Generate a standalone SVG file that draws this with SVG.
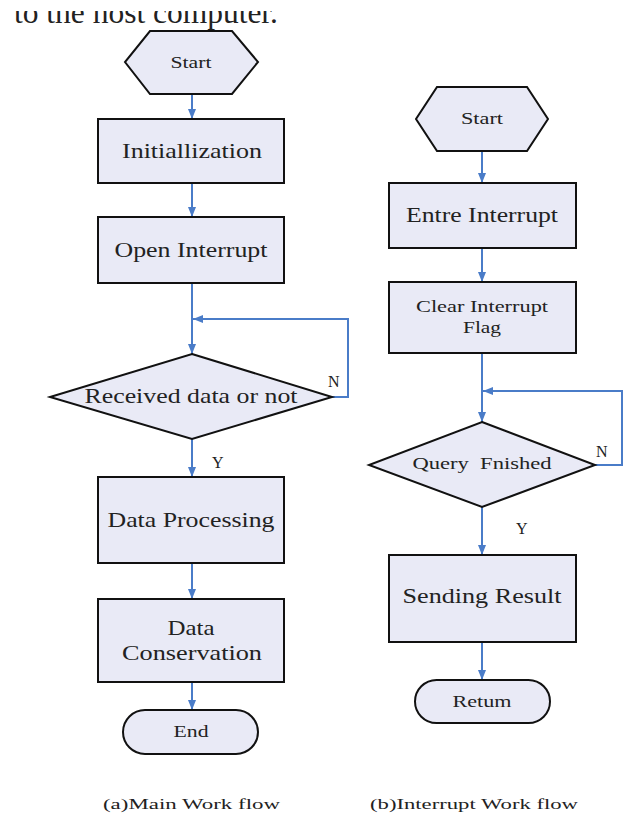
<svg xmlns="http://www.w3.org/2000/svg" width="624" height="816" viewBox="0 0 624 816">
<style>
.shape{fill:#E9EAF6;stroke:#111;stroke-width:2}
.t{font-family:"Liberation Serif","Times New Roman",serif;fill:#222;text-anchor:middle}
.b{font-size:21px}
.s{font-size:16px}
.cap{font-family:"Liberation Serif","Times New Roman",serif;fill:#222;font-size:15px}
.c{fill:none;stroke:#4A7CC8;stroke-width:2}
.lbl{font-family:"Liberation Serif","Times New Roman",serif;fill:#222;font-size:16px}
</style>
<defs>
<marker id="ah" markerUnits="userSpaceOnUse" markerWidth="10" markerHeight="10" viewBox="0 0 10 10" refX="10" refY="5" orient="auto">
<path d="M0,1 L10,5 L0,9 Z" fill="#4A7CC8"/>
</marker>
<clipPath id="topclip"><rect x="0" y="11" width="624" height="20"/></clipPath>
</defs>
<rect width="624" height="816" fill="#fff"/>
<text clip-path="url(#topclip)" x="14" y="23" font-family="Liberation Serif, Times New Roman, serif" font-size="31" fill="#222" textLength="264" lengthAdjust="spacingAndGlyphs">to the host computer.</text>

<g id="connectors">
<line class="c" x1="192" y1="95" x2="192" y2="119" marker-end="url(#ah)"/>
<line class="c" x1="192" y1="183" x2="192" y2="217" marker-end="url(#ah)"/>
<line class="c" x1="192" y1="283" x2="192" y2="354" marker-end="url(#ah)"/>
<polyline class="c" points="332,397 348,397 348,319 193,319" marker-end="url(#ah)"/>
<line class="c" x1="192" y1="439" x2="192" y2="477" marker-end="url(#ah)"/>
<line class="c" x1="192" y1="563" x2="192" y2="599" marker-end="url(#ah)"/>
<line class="c" x1="192" y1="682" x2="192" y2="710" marker-end="url(#ah)"/>
<line class="c" x1="482" y1="151" x2="482" y2="183" marker-end="url(#ah)"/>
<line class="c" x1="482" y1="248" x2="482" y2="282" marker-end="url(#ah)"/>
<line class="c" x1="482" y1="353" x2="482" y2="422" marker-end="url(#ah)"/>
<polyline class="c" points="595,465 622,465 622,391 483,391" marker-end="url(#ah)"/>
<line class="c" x1="482" y1="507" x2="482" y2="555" marker-end="url(#ah)"/>
<line class="c" x1="482" y1="642" x2="482" y2="680" marker-end="url(#ah)"/>
<text class="lbl" x="328" y="387">N</text>
<text class="lbl" x="212" y="468">Y</text>
<text class="lbl" x="596" y="457">N</text>
<text class="lbl" x="516" y="534">Y</text>
</g>

<g id="start-a">
<polygon class="shape" points="150,31 232,31 258,62 232,94 150,94 125,62"/>
<text class="t s" x="191" y="68" textLength="41" lengthAdjust="spacingAndGlyphs">Start</text>
</g>
<g id="init">
<rect class="shape" x="98" y="119" width="186" height="64"/>
<text class="t b" x="192" y="158" textLength="140" lengthAdjust="spacingAndGlyphs">Initiallization</text>
</g>
<g id="open-interrupt">
<rect class="shape" x="98" y="217" width="186" height="66"/>
<text class="t b" x="191" y="257" textLength="153" lengthAdjust="spacingAndGlyphs">Open Interrupt</text>
</g>
<g id="received">
<polygon class="shape" points="192,354 332,397 192,439 50,397"/>
<text class="t b" x="191" y="403" textLength="213" lengthAdjust="spacingAndGlyphs">Received data or not</text>
</g>
<g id="data-processing">
<rect class="shape" x="98" y="477" width="186" height="86"/>
<text class="t b" x="191" y="527" textLength="167" lengthAdjust="spacingAndGlyphs">Data Processing</text>
</g>
<g id="data-conservation">
<rect class="shape" x="98" y="599" width="186" height="83"/>
<text class="t b" x="191" y="635" textLength="47" lengthAdjust="spacingAndGlyphs">Data</text>
<text class="t b" x="192" y="660" textLength="140" lengthAdjust="spacingAndGlyphs">Conservation</text>
</g>
<g id="end">
<rect class="shape" x="123" y="710" width="135" height="44" rx="22" ry="22"/>
<text class="t s" x="191" y="737" textLength="35" lengthAdjust="spacingAndGlyphs">End</text>
</g>

<g id="start-b">
<polygon class="shape" points="437,87 527,87 548,119 527,151 437,151 416,119"/>
<text class="t s" x="482" y="124" textLength="42" lengthAdjust="spacingAndGlyphs">Start</text>
</g>
<g id="entre-interrupt">
<rect class="shape" x="389" y="183" width="187" height="65"/>
<text class="t b" x="482" y="222" textLength="152" lengthAdjust="spacingAndGlyphs">Entre Interrupt</text>
</g>
<g id="clear-flag">
<rect class="shape" x="389" y="282" width="187" height="71"/>
<text class="t s" x="482" y="312" textLength="132" lengthAdjust="spacingAndGlyphs">Clear Interrupt</text>
<text class="t s" x="482" y="333" textLength="38" lengthAdjust="spacingAndGlyphs">Flag</text>
</g>
<g id="query">
<polygon class="shape" points="482,422 595,465 482,507 369,465"/>
<text class="t s" x="482" y="469" textLength="139" lengthAdjust="spacingAndGlyphs" xml:space="preserve">Query  Fnished</text>
</g>
<g id="sending">
<rect class="shape" x="389" y="555" width="187" height="87"/>
<text class="t b" x="482" y="603" textLength="159" lengthAdjust="spacingAndGlyphs">Sending Result</text>
</g>
<g id="return">
<rect class="shape" x="415" y="680" width="135" height="43" rx="21.5" ry="21.5"/>
<text class="t s" x="482" y="707" textLength="59" lengthAdjust="spacingAndGlyphs">Retum</text>
</g>

<text class="cap" x="103" y="809" textLength="177" lengthAdjust="spacingAndGlyphs">(a)Main Work flow</text>
<text class="cap" x="370" y="809" textLength="208" lengthAdjust="spacingAndGlyphs">(b)Interrupt Work flow</text>
</svg>
